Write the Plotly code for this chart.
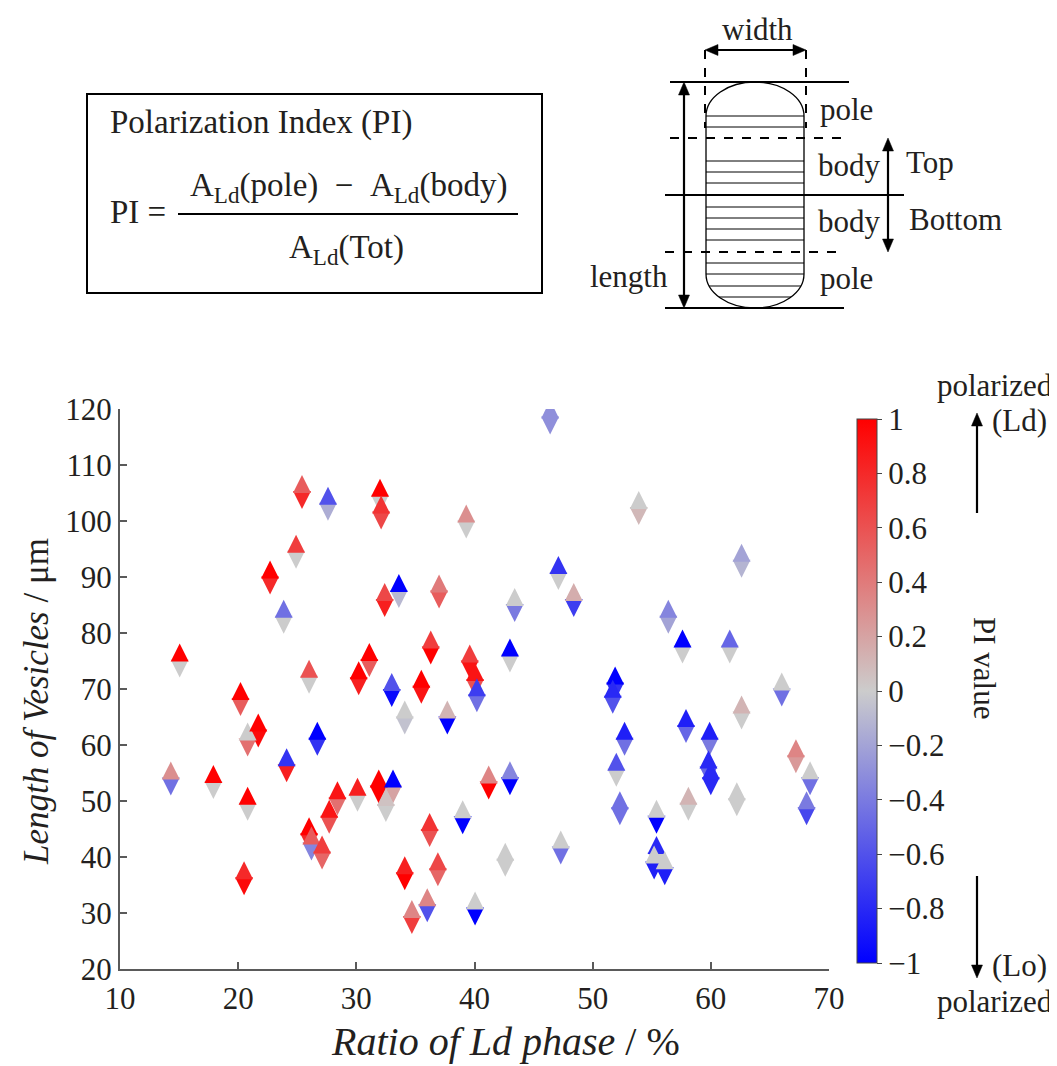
import plotly.graph_objects as go

# ---------------- data ----------------
x_ratio = [14.3, 15.05, 17.9, 20.2, 20.8, 21.7, 20.8, 20.5, 22.7, 23.85,
           24.9, 25.4, 27.6, 24.1, 26.0, 26.7, 26.0, 26.2, 27.1, 27.7,
           28.4, 30.1, 31.9, 33.1, 32.5, 30.2, 31.1, 32.0, 32.1, 32.4,
           33.6, 37.0, 36.3, 33.0, 35.5, 34.1, 37.7, 39.3, 46.4, 43.4,
           47.1, 48.4, 39.6, 40.05, 40.2, 43.0, 36.2, 39.0, 41.2, 43.0,
           34.1, 36.9, 42.6, 47.3, 36.0, 34.7, 40.05, 53.9, 62.6, 56.4,
           57.6, 61.6, 66.0, 51.9, 51.7, 52.7, 52.0, 52.3, 57.9, 59.9,
           59.8, 60.0, 62.6, 58.1, 62.2, 67.2, 68.4, 68.1, 55.4, 55.4,
           56.1, 55.2]
y_length = [54.0, 75.1, 53.4, 68.2, 61.0, 62.6, 49.5, 36.2, 89.9, 82.9,
            94.5, 105.2, 103.1, 56.4, 72.2, 61.1, 44.05, 42.4, 40.8, 47.2,
            50.5, 51.1, 52.6, 52.6, 49.3, 71.9, 75.2, 104.5, 101.5, 85.9,
            87.5, 87.4, 77.4, 69.8, 70.4, 64.9, 64.9, 99.9, 118.5, 85.0,
            90.7, 85.9, 74.9, 71.6, 68.9, 76.0, 44.8, 47.1, 53.3, 54.05,
            37.1, 37.8, 39.5, 41.7, 31.4, 29.3, 30.8, 102.3, 92.9, 82.9,
            77.6, 77.6, 69.9, 71.0, 68.6, 61.1, 55.6, 48.7, 63.4, 61.1,
            56.0, 54.05, 65.8, 49.5, 50.3, 58.0, 54.05, 48.7, 47.2, 40.7,
            38.0, 39.0]
pi_top = [0.3, 1.0, 1.0, 1.0, 0.0, 1.0, 1.0, 0.8, 1.0, -0.45,
          0.7, 0.55, -0.6, -0.75, 0.6, -1.0, 1.0, 0.55, 0.7, 0.9,
          0.9, 0.85, 1.0, -1.0, 0.05, 1.0, 1.0, 1.0, 0.75, 0.65,
          -1.0, 0.4, 0.7, -0.6, 1.0, 0.0, 0.12, 0.3, -0.3, 0.0,
          -0.75, 0.15, 0.7, 0.9, -0.7, -1.0, 0.75, 0.0, 0.35, -0.35,
          0.85, 0.65, 0.0, 0.0, 0.35, 0.35, 0.0, 0.0, -0.2, -0.35,
          -1.0, -0.5, 0.0, -1.0, -0.8, -0.85, -0.6, -0.45, -0.85, -0.85,
          -0.8, -0.8, 0.12, 0.12, 0.0, 0.35, 0.0, -0.4, 0.0, -0.8,
          0.0, 0.0]
pi_bottom = [-0.45, 0.0, 0.0, 0.55, 0.45, 0.95, 0.0, 0.95, 0.8, 0.0,
             0.0, 0.8, -0.15, 0.85, 0.0, -0.75, 0.8, -0.35, 0.5, 0.6,
             0.45, 0.0, 1.0, 0.2, 0.0, 0.85, 0.55, 0.0, 0.65, 0.85,
             -0.1, 0.55, 1.0, -0.95, 0.9, -0.05, -1.0, 0.0, -0.3, -0.4,
             0.0, -0.7, 0.9, 0.6, -0.45, 0.0, 0.6, -1.0, 1.0, -1.0,
             1.0, 0.5, 0.0, -0.45, -0.6, 0.7, -1.0, 0.1, -0.12, -0.2,
             0.0, 0.0, -0.45, -0.75, -0.6, -0.45, 0.0, -0.45, -0.5, -0.4,
             -0.5, -0.8, 0.0, 0.0, 0.0, 0.25, -0.45, -0.65, -1.0, 0.0,
             -0.85, -0.85]

x_ticks = [10, 20, 30, 40, 50, 60, 70]
y_ticks = [20, 30, 40, 50, 60, 70, 80, 90, 100, 110, 120]
cb_ticks = [1, 0.8, 0.6, 0.4, 0.2, 0, -0.2, -0.4, -0.6, -0.8, -1]
cb_labels = ["1", "0.8", "0.6", "0.4", "0.2", "0", "\u22120.2", "\u22120.4",
             "\u22120.6", "\u22120.8", "\u22121"]

# ---------------- styling ----------------
OFF = 8                      # page body margin
W, H = 1057 - OFF, 1066 - OFF
ML, MR, MT, MB = 120 - OFF, 228, 409 - OFF, 97
PW, PH = W - ML - MR, H - MT - MB
FONT = "Liberation Serif"
INK = "#231f20"
AX = "#5a5a5a"
scale = [[0.0, "rgb(0,0,255)"], [0.5, "rgb(204,204,204)"], [1.0, "rgb(255,0,0)"]]
MS = 18


def px(x):   # page pixel -> paper x
    return (x - OFF - ML) / PW


def py(y):   # page pixel -> paper y
    return (OFF + H - MB - y) / PH


fig = go.Figure()

# bottom halves (down-pointing triangle under the point)
fig.add_trace(go.Scatter(
    x=x_ratio, y=y_length, mode="markers", hoverinfo="skip", showlegend=False,
    marker=dict(symbol="arrow-down", size=MS, standoff=MS - 1, angle=0,
                color=pi_bottom, colorscale=scale, cmin=-1, cmax=1,
                line=dict(width=0), showscale=False)))

# top halves (up-pointing triangle above the point)
fig.add_trace(go.Scatter(
    x=x_ratio, y=y_length, mode="markers", hoverinfo="skip", showlegend=False,
    marker=dict(symbol="arrow-down", size=MS, standoff=MS - 1, angle=180,
                color=pi_top, colorscale=scale, cmin=-1, cmax=1,
                line=dict(width=0), showscale=True,
                colorbar=dict(
                    x=px(857), xanchor="left", xpad=0, xref="paper",
                    y=py(691), yanchor="middle", ypad=0, yref="paper",
                    len=544, lenmode="pixels", thickness=20,
                    thicknessmode="pixels", outlinewidth=1, outlinecolor="#444",
                    tickvals=cb_ticks, ticktext=cb_labels, ticks="outside",
                    ticklen=5, tickcolor="#444",
                    tickfont=dict(family=FONT, size=31, color=INK)))))

shapes = []
annotations = []


def line(x0, y0, x1, y1, w=2, dash=None, color="black"):
    d = dict(type="line", xref="paper", yref="paper",
             x0=px(x0), y0=py(y0), x1=px(x1), y1=py(y1),
             line=dict(color=color, width=w))
    if dash:
        d["line"]["dash"] = dash
    shapes.append(d)


def poly(points, color="black"):
    p = "M" + " L".join(f"{px(a):.5f},{py(b):.5f}" for a, b in points) + " Z"
    shapes.append(dict(type="path", xref="paper", yref="paper", path=p,
                       fillcolor=color, line=dict(color=color, width=0.5)))


def head(tx, ty, dx, dy, L=13, hw=5.5):
    # tip at (tx,ty), pointing along unit (dx,dy)
    bx, by = tx - dx * L, ty - dy * L
    nx, ny = -dy, dx
    poly([(tx, ty), (bx + nx * hw, by + ny * hw), (bx - nx * hw, by - ny * hw)])


def arrow(x0, y0, x1, y1, both=False, w=2.2):
    # arrow with head at (x1,y1); optional head at (x0,y0)
    L = ((x1 - x0) ** 2 + (y1 - y0) ** 2) ** 0.5
    dx, dy = (x1 - x0) / L, (y1 - y0) / L
    s0 = 8 if both else 0
    line(x0 + dx * s0, y0 + dy * s0, x1 - dx * 8, y1 - dy * 8, w=w)
    head(x1, y1, dx, dy)
    if both:
        head(x0, y0, -dx, -dy)


def text(t, x, y, size=31, angle=0, xanchor="center"):
    annotations.append(dict(text=t, x=px(x), y=py(y), xref="paper", yref="paper",
                            showarrow=False, textangle=angle, xanchor=xanchor,
                            yanchor="middle",
                            font=dict(family=FONT, size=size, color=INK)))


# ----- formula box -----
shapes.append(dict(type="rect", xref="paper", yref="paper",
                   x0=px(87), x1=px(542), y0=py(94), y1=py(293),
                   line=dict(color="black", width=2)))
text("Polarization Index (PI)", 108, 122, size=33, xanchor="left")
text("PI =", 108, 212, size=33, xanchor="left")
line(178, 214, 518, 214, w=2)
nb = "\u00a0"
text("A<sub>Ld</sub>(pole)" + nb * 2 + "\u2212" + nb * 2 + "A<sub>Ld</sub>(body)", 348, 187, size=33)
text("A<sub>Ld</sub>(Tot)", 346, 250, size=33)

# ----- vesicle diagram -----
cx, rx, top, bot, ry = 755, 49, 82, 308, 34
k = 0.5523
pts = [("M", [(cx - rx, top + ry)]),
       ("C", [(cx - rx, top + ry - ry * k), (cx - rx * k, top), (cx, top)]),
       ("C", [(cx + rx * k, top), (cx + rx, top + ry - ry * k), (cx + rx, top + ry)]),
       ("L", [(cx + rx, bot - ry)]),
       ("C", [(cx + rx, bot - ry + ry * k), (cx + rx * k, bot), (cx, bot)]),
       ("C", [(cx - rx * k, bot), (cx - rx, bot - ry + ry * k), (cx - rx, bot - ry)])]
path = ""
for cmd, ps in pts:
    path += cmd + " ".join(f"{px(a):.5f},{py(b):.5f}" for a, b in ps)
path += "Z"
shapes.append(dict(type="path", xref="paper", yref="paper", path=path,
                   line=dict(color="black", width=1.3)))

hatch_y = [116, 127, 161, 172, 183, 207, 218, 229, 240, 263, 274, 286, 297]
for hy in hatch_y:
    if hy < top + ry:
        dy = (top + ry - hy) / ry
    elif hy > bot - ry:
        dy = (hy - (bot - ry)) / ry
    else:
        dy = 0
    hw = rx * max(0.0, 1 - dy * dy) ** 0.5
    line(cx - hw, hy, cx + hw, hy, w=1)

line(670, 82, 849, 82, w=2)
line(670, 138, 849, 138, w=2, dash="dash")
line(665, 195, 904, 195, w=2)
line(665, 252, 844, 252, w=2, dash="dash")
line(665, 308, 844, 308, w=2)
line(705, 50, 705, 128, w=2, dash="dash")
line(806, 50, 806, 128, w=2, dash="dash")

arrow(705, 50, 806, 50, both=True)
arrow(684, 82, 684, 308, both=True)
arrow(888, 138, 888, 252, both=True)

text("width", 757, 29, size=31)
text("pole", 846, 110, size=31)
text("body", 849, 165, size=31)
text("Top", 930, 162, size=31)
text("body", 849, 221, size=31)
text("Bottom", 955, 219, size=31)
text("length", 629, 276, size=31)
text("pole", 846, 278, size=31)

# ----- right side legend text -----
text("polarized", 995, 386, size=31)
text("(Ld)", 1019, 420, size=31)
arrow(977, 513, 977, 413)
text("PI value", 985, 668, size=31, angle=90)
arrow(977, 876, 977, 978)
text("(Lo)", 1019, 965, size=31)
text("polarized", 995, 1001, size=31)

# ----- axis titles -----
text("<i>Length of Vesicles</i> / \u03bcm", 36, 702, size=35, angle=-90)
text("<i>Ratio of Ld phase</i> / %", 505, 1041, size=40)

axis_common = dict(showgrid=False, zeroline=False, showline=True, linecolor=AX,
                   linewidth=2, ticks="inside", ticklen=7, tickwidth=1.5,
                   tickcolor=AX, mirror=False,
                   tickfont=dict(family=FONT, size=31, color=INK))

fig.update_layout(
    width=W, height=H,
    margin=dict(l=ML, r=MR, t=MT, b=MB, pad=0),
    paper_bgcolor="white", plot_bgcolor="white",
    xaxis=dict(range=[10, 70], tickvals=x_ticks, ticklabelstandoff=1, **axis_common),
    yaxis=dict(range=[20, 120], tickvals=y_ticks, ticklabelstandoff=0, **axis_common),
    shapes=shapes, annotations=annotations,
    font=dict(family=FONT, color=INK),
)

fig.write_html("out.html")
